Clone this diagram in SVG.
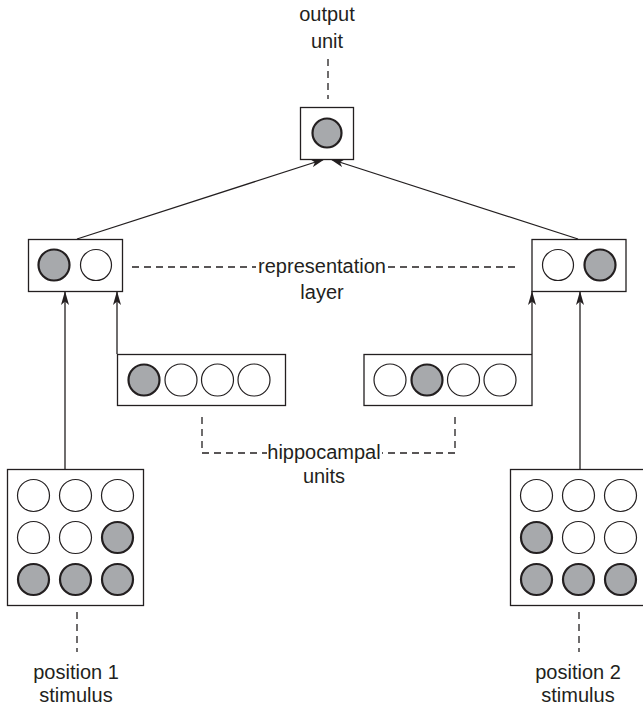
<svg xmlns="http://www.w3.org/2000/svg" width="643" height="706" viewBox="0 0 643 706">
<style>
.box{fill:#fff;stroke:#231f20;stroke-width:1.3}
.off{fill:#fff;stroke:#231f20;stroke-width:1.2}
.on{fill:#a7a9ac;stroke:#231f20;stroke-width:2.2}
.con{fill:none;stroke:#231f20;stroke-width:1.3}
.dash{fill:none;stroke:#231f20;stroke-width:1.3;stroke-dasharray:7,5}
text{font-family:"Liberation Sans",Arial,sans-serif;font-size:20px;fill:#231f20;text-anchor:middle}
</style>
<defs>
<marker id="ah" viewBox="0 0 14 8" refX="14" refY="4" markerWidth="14" markerHeight="8" markerUnits="userSpaceOnUse" orient="auto">
<path d="M0,0 L14,4 L0,8 L3.5,4 Z" fill="#231f20"/>
</marker>
</defs>
<g id="connectors">
<line class="con" x1="77" y1="239" x2="325" y2="159" marker-end="url(#ah)"/>
<line class="con" x1="578" y1="239" x2="330" y2="159" marker-end="url(#ah)"/>
<line class="con" x1="65" y1="469" x2="65" y2="291" marker-end="url(#ah)"/>
<line class="con" x1="117" y1="354" x2="117" y2="291" marker-end="url(#ah)"/>
<line class="con" x1="532" y1="354" x2="532" y2="291" marker-end="url(#ah)"/>
<line class="con" x1="580" y1="469" x2="580" y2="291" marker-end="url(#ah)"/>
</g>
<g id="labels">
<line class="dash" x1="328" y1="59" x2="328" y2="99"/>
<text x="327" y="21">output</text>
<text x="327" y="48">unit</text>
<line class="dash" x1="132" y1="267" x2="256" y2="267"/>
<line class="dash" x1="388" y1="267" x2="520" y2="267"/>
<text x="322" y="273">representation</text>
<text x="322" y="299">layer</text>
<path class="dash" d="M202,417 L202,453 L267,453"/>
<path class="dash" d="M455,417 L455,453 L382,453"/>
<text x="324" y="459">hippocampal</text>
<text x="324" y="483">units</text>
<line class="dash" x1="77" y1="612" x2="77" y2="652"/>
<text x="76" y="679">position 1</text>
<text x="76" y="702">stimulus</text>
<line class="dash" x1="579" y1="612" x2="579" y2="652"/>
<text x="578" y="679">position 2</text>
<text x="578" y="702">stimulus</text>
</g>
<g id="output-unit">
<rect class="box" x="300.5" y="107.5" width="53" height="52"/>
<circle class="on" cx="327" cy="133" r="14.5"/>
</g>
<g id="rep-left">
<rect class="box" x="28.5" y="239.5" width="94" height="52"/>
<circle class="on" cx="54" cy="265" r="15.5"/>
<circle class="off" cx="96" cy="265" r="15.5"/>
</g>
<g id="rep-right">
<rect class="box" x="532" y="239.5" width="94" height="52"/>
<circle class="off" cx="558" cy="265" r="15.5"/>
<circle class="on" cx="600" cy="265" r="15.5"/>
</g>
<g id="hippo-left">
<rect class="box" x="117.5" y="354.5" width="168" height="51"/>
<circle class="on" cx="144" cy="380" r="15.5"/>
<circle class="off" cx="181" cy="380" r="16"/>
<circle class="off" cx="217.5" cy="380" r="16"/>
<circle class="off" cx="254" cy="380" r="16"/>
</g>
<g id="hippo-right">
<rect class="box" x="364" y="354.5" width="168" height="51"/>
<circle class="off" cx="390" cy="380" r="16"/>
<circle class="on" cx="427" cy="380" r="15.5"/>
<circle class="off" cx="463.5" cy="380" r="16"/>
<circle class="off" cx="500" cy="380" r="16"/>
</g>
<g id="stim-left">
<rect class="box" x="7.5" y="469.5" width="136" height="136"/>
<circle class="off" cx="33.5" cy="495.5" r="16"/>
<circle class="off" cx="75.5" cy="495.5" r="16"/>
<circle class="off" cx="117.5" cy="495.5" r="16"/>
<circle class="off" cx="33.5" cy="537.5" r="16"/>
<circle class="off" cx="75.5" cy="537.5" r="16"/>
<circle class="on" cx="117.5" cy="537.5" r="15.5"/>
<circle class="on" cx="33.5" cy="579.5" r="15.5"/>
<circle class="on" cx="75.5" cy="579.5" r="15.5"/>
<circle class="on" cx="117.5" cy="579.5" r="15.5"/>
</g>
<g id="stim-right">
<rect class="box" x="510.5" y="469.5" width="136" height="136"/>
<circle class="off" cx="536.5" cy="495.5" r="16"/>
<circle class="off" cx="578.5" cy="495.5" r="16"/>
<circle class="off" cx="620.5" cy="495.5" r="16"/>
<circle class="on" cx="536.5" cy="537.5" r="15.5"/>
<circle class="off" cx="578.5" cy="537.5" r="16"/>
<circle class="off" cx="620.5" cy="537.5" r="16"/>
<circle class="on" cx="536.5" cy="579.5" r="15.5"/>
<circle class="on" cx="578.5" cy="579.5" r="15.5"/>
<circle class="on" cx="620.5" cy="579.5" r="15.5"/>
</g>
</svg>
